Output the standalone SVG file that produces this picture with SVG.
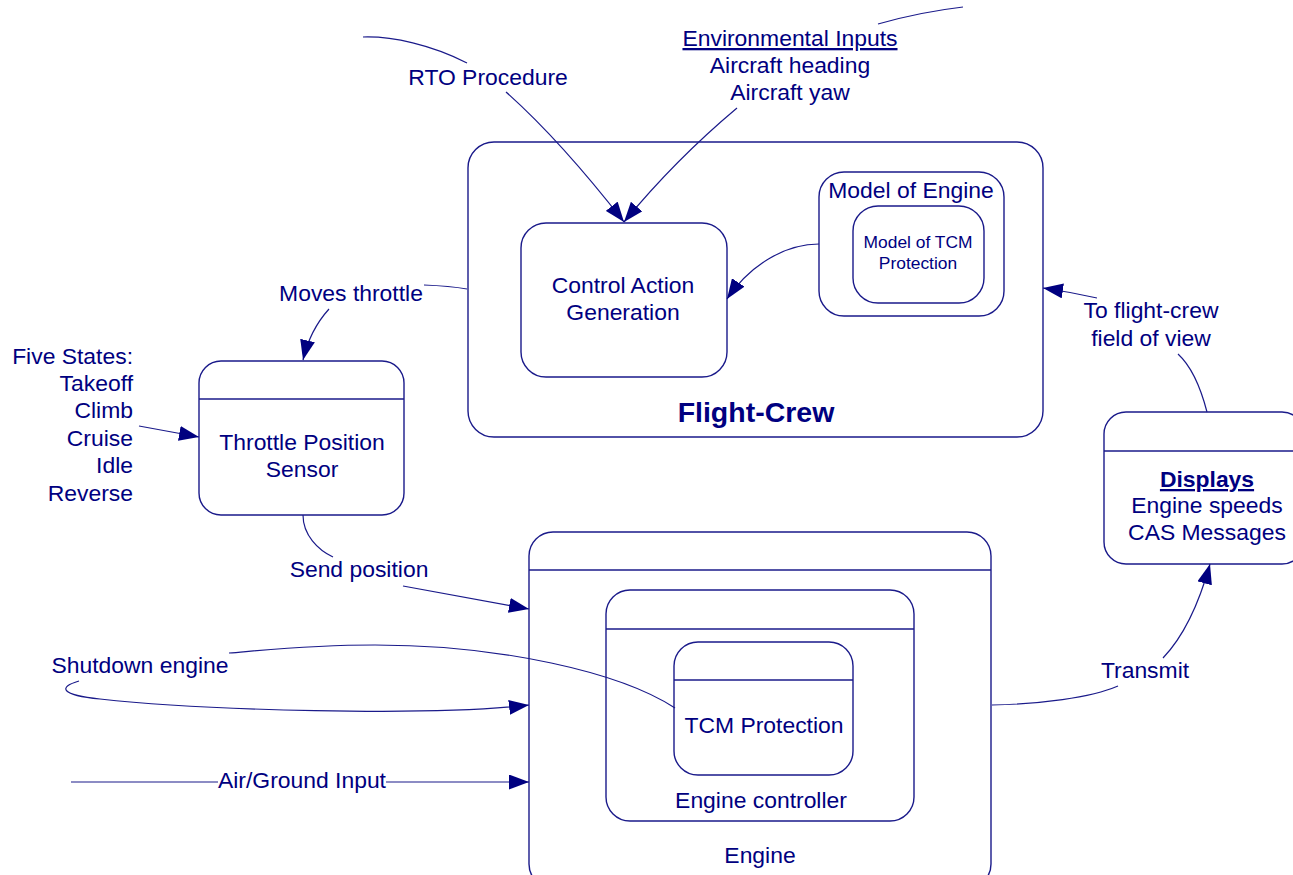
<svg xmlns="http://www.w3.org/2000/svg" width="1293" height="875" viewBox="0 0 1293 875">
<defs>
<style>
.box{fill:none;stroke:#1a1a8a;stroke-width:1.4}
.hdr{stroke:#1a1a8a;stroke-width:1.4}
.c{fill:none;stroke:#1a1a8a;stroke-width:1.2}
.a{marker-end:url(#arr)}
text{font-family:"Liberation Sans",Arial,sans-serif;font-size:22.9px;fill:#000080}
.m{text-anchor:middle}
.e{text-anchor:end}
.s{font-size:17.4px}
.b{font-weight:bold}
.u{text-decoration:underline}
</style>
<marker id="arr" viewBox="0 0 20 15" markerWidth="20" markerHeight="15" refX="20" refY="7.5" orient="auto" markerUnits="userSpaceOnUse">
<path d="M0,0 L20,7.5 L0,15 z" fill="#000080"/>
</marker>
</defs>
<rect width="1293" height="875" fill="#ffffff"/>

<g id="flight-crew">
<rect class="box" x="468" y="142" width="575" height="295" rx="26"/>
<text class="m b" x="756" y="422" style="font-size:28.5px">Flight-Crew</text>
</g>
<g id="control-action-generation">
<rect class="box" x="521" y="223" width="206" height="154" rx="25"/>
<text class="m" x="623" y="293">Control Action</text>
<text class="m" x="623" y="320">Generation</text>
</g>
<g id="model-of-engine">
<rect class="box" x="819" y="172" width="185" height="144" rx="25"/>
<text class="m" x="911" y="198">Model of Engine</text>
</g>
<g id="model-of-tcm-protection">
<rect class="box" x="853" y="206" width="131" height="97" rx="25"/>
<text class="m s" x="918" y="248">Model of TCM</text>
<text class="m s" x="918" y="269">Protection</text>
</g>
<g id="throttle-position-sensor">
<rect class="box" x="199" y="361" width="205" height="154" rx="22"/>
<line class="hdr" x1="199" y1="399" x2="404" y2="399"/>
<text class="m" x="302" y="450">Throttle Position</text>
<text class="m" x="302" y="477">Sensor</text>
</g>
<g id="displays">
<rect class="box" x="1104" y="412" width="200" height="152" rx="22"/>
<line class="hdr" x1="1104" y1="451" x2="1304" y2="451"/>
<text class="m b u" x="1207" y="487">Displays</text>
<text class="m" x="1207" y="513">Engine speeds</text>
<text class="m" x="1207" y="540">CAS Messages</text>
</g>
<g id="engine">
<rect class="box" x="529" y="532" width="462" height="356" rx="24"/>
<line class="hdr" x1="529" y1="570" x2="991" y2="570"/>
<text class="m" x="760" y="863">Engine</text>
</g>
<g id="engine-controller">
<rect class="box" x="606" y="590" width="308" height="231" rx="24"/>
<line class="hdr" x1="606" y1="629" x2="914" y2="629"/>
<text class="m" x="761" y="808">Engine controller</text>
</g>
<g id="tcm-protection">
<rect class="box" x="674" y="642" width="179" height="133" rx="24"/>
<line class="hdr" x1="674" y1="680" x2="853" y2="680"/>
<text class="m" x="764" y="733">TCM Protection</text>
</g>

<g id="labels">
<text class="m" x="488" y="85">RTO Procedure</text>
<text class="m u" x="790" y="46">Environmental Inputs</text>
<text class="m" x="790" y="73">Aircraft heading</text>
<text class="m" x="790" y="100">Aircraft yaw</text>
<text class="m" x="351" y="301">Moves throttle</text>
<text class="e" x="133" y="364">Five States:</text>
<text class="e" x="133" y="391">Takeoff</text>
<text class="e" x="133" y="418">Climb</text>
<text class="e" x="133" y="446">Cruise</text>
<text class="e" x="133" y="473">Idle</text>
<text class="e" x="133" y="501">Reverse</text>
<text class="m" x="359" y="577">Send position</text>
<text class="m" x="140" y="673">Shutdown engine</text>
<text class="m" x="302" y="788">Air/Ground Input</text>
<text class="m" x="1145" y="678">Transmit</text>
<text class="m" x="1151" y="318">To flight-crew</text>
<text class="m" x="1151" y="346">field of view</text>
</g>

<g id="connectors">
<path class="c" d="M363,37 C392,36 432,45 467,63"/>
<path class="c a" d="M506,92 Q560,140 624,222"/>
<path class="c" d="M878,24 Q920,12 963,7"/>
<path class="c a" d="M737,108 Q675,160 624,222"/>
<path class="c a" d="M819,244 C785,244 750,265 727,299"/>
<path class="c" d="M424,285 Q450,286 467,289"/>
<path class="c a" d="M329,309 Q310,330 303,360"/>
<path class="c a" d="M139,426 L199,437"/>
<path class="c" d="M303,515 C303,535 318,550 333,557"/>
<path class="c a" d="M403,586 Q470,598 529,609"/>
<path class="c" d="M675,708 C620,672 500,645 375,645 C310,645 265,650 229,653"/>
<path class="c a" d="M79,681 C58,687 60,695 100,699 C200,710 430,717 529,705"/>
<path class="c" d="M71,782 L218,782"/>
<path class="c a" d="M386,782 L529,782"/>
<path class="c" d="M992,705 C1040,704 1090,698 1118,686"/>
<path class="c a" d="M1163,658 C1185,635 1200,600 1210,564"/>
<path class="c" d="M1207,412 C1200,385 1190,365 1178,354"/>
<path class="c a" d="M1097,298 Q1070,292 1043,288"/>
</g>
</svg>
